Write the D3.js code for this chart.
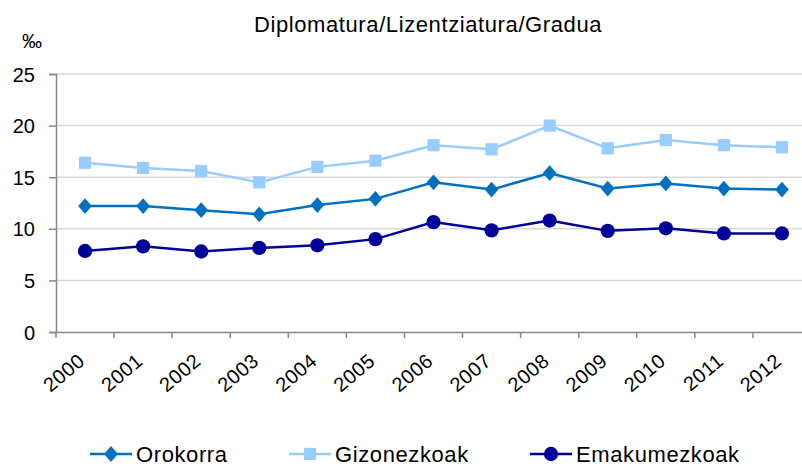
<!DOCTYPE html>
<html>
<head>
<meta charset="utf-8">
<script src="https://cdn.jsdelivr.net/npm/d3@7"></script>
<style>
  body { margin: 0; background: #fff; }
  text { font-family: "Liberation Sans", Arial, sans-serif; fill: #000; }
</style>
</head>
<body>
<div id="chart"></div>
<script>
// Data
let years = ['2000', '2001', '2002', '2003', '2004', '2005', '2006', '2007', '2008', '2009', '2010', '2011', '2012'];
let orokorra = [12.2, 12.2, 11.8, 11.4, 12.3, 12.9, 14.5, 13.8, 15.4, 13.9, 14.4, 13.9, 13.8];
let gizonezkoak = [16.4, 15.9, 15.6, 14.5, 16.0, 16.6, 18.1, 17.7, 20.0, 17.8, 18.6, 18.1, 17.9];
let emakumezkoak = [7.85, 8.3, 7.8, 8.15, 8.4, 9.0, 10.65, 9.85, 10.8, 9.8, 10.05, 9.55, 9.55];
let yTicks = [0, 5, 10, 15, 20, 25];

let series = [
  { name: 'Orokorra', values: orokorra, color: '#0070C0', marker: 'diamond' },
  { name: 'Gizonezkoak', values: gizonezkoak, color: '#99CCFF', marker: 'square' },
  { name: 'Emakumezkoak', values: emakumezkoak, color: '#000099', marker: 'circle' }
];

// Dimensions
let W = 802, H = 468;
let plot = { left: 56, right: 811, top: 74, bottom: 332 };

// Scales
let x = d3.scaleBand()
  .domain(years)
  .range([plot.left, plot.right]);
let y = d3.scaleLinear()
  .domain([0, 25])
  .range([plot.bottom, plot.top]);

let svg = d3.select('#chart')
  .append('svg')
  .attr('width', W)
  .attr('height', H);

// Grid
svg.append('g')
  .selectAll('line')
  .data(yTicks.filter(d => d > 0))
  .enter()
  .append('line')
  .attr('x1', plot.left)
  .attr('x2', plot.right)
  .attr('y1', d => y(d))
  .attr('y2', d => y(d))
  .attr('stroke', '#d9d9d9')
  .attr('stroke-width', 1.5);

// Axes
let yAxis = svg.append('g')
  .attr('transform', `translate(${plot.left},0)`)
  .call(d3.axisLeft(y).tickValues(yTicks).tickSize(7).tickPadding(14));
yAxis.selectAll('text').style('font-size', '20px').attr('dy', '0.35em');

let xAxis = svg.append('g')
  .attr('transform', `translate(0,${plot.bottom})`)
  .call(d3.axisBottom(x).tickSize(0).tickFormat(''));
xAxis.selectAll('.tick').remove();
xAxis.selectAll('.cat-tick')
  .data(years)
  .enter()
  .append('line')
  .attr('class', 'cat-tick')
  .attr('x1', d => x(d))
  .attr('x2', d => x(d))
  .attr('y1', 0)
  .attr('y2', 6);

svg.selectAll('.domain, .tick line, .cat-tick')
  .attr('stroke', '#868686')
  .attr('stroke-width', 1.5);

// X labels
svg.append('g')
  .selectAll('text')
  .data(years)
  .enter()
  .append('text')
  .attr('text-anchor', 'end')
  .attr('transform', d => `translate(${x(d) + x.bandwidth() / 2 + 1},${plot.bottom + 31}) rotate(-40)`)
  .style('font-size', '20px')
  .style('letter-spacing', '0.5px')
  .text(d => d);

// Lines and markers
let line = d3.line()
  .x((d, i) => x(years[i]) + x.bandwidth() / 2)
  .y(d => y(d));

let symbols = {
  diamond: d3.symbol().type(d3.symbolDiamond2).size(120),
  square: d3.symbol().type(d3.symbolSquare2).size(190),
  circle: d3.symbol().type(d3.symbolCircle).size(160)
};

series.forEach(s => {
  svg.append('path')
    .datum(s.values)
    .attr('fill', 'none')
    .attr('stroke', s.color)
    .attr('stroke-width', 2.5)
    .attr('d', line);
  svg.append('g')
    .selectAll('path')
    .data(s.values)
    .enter()
    .append('path')
    .attr('transform', (d, i) => `translate(${x(years[i]) + x.bandwidth() / 2},${y(d)})${s.marker === 'diamond' ? ' scale(1,1.15)' : ''}`)
    .attr('d', symbols[s.marker]())
    .attr('fill', s.color);
});

// Title and unit
svg.append('text')
  .attr('x', 428)
  .attr('y', 32)
  .attr('text-anchor', 'middle')
  .style('font-size', '22px')
  .style('letter-spacing', '0.6px')
  .text('Diplomatura/Lizentziatura/Gradua');
svg.append('text')
  .attr('x', 22)
  .attr('y', 48)
  .style('font-size', '20px')
  .text('‰');

// Legend
let legendX = [90, 289, 530];
let legend = svg.append('g')
  .selectAll('g')
  .data(series)
  .enter()
  .append('g')
  .attr('transform', (d, i) => `translate(${legendX[i]},454)`);
legend.append('line')
  .attr('x1', 0)
  .attr('x2', 42)
  .attr('stroke', d => d.color)
  .attr('stroke-width', 2.5);
legend.append('path')
  .attr('transform', d => `translate(21,0)${d.marker === 'diamond' ? ' scale(1,1.15)' : ''}`)
  .attr('d', d => symbols[d.marker]())
  .attr('fill', d => d.color);
legend.append('text')
  .attr('x', 46)
  .attr('dy', '0.35em')
  .style('font-size', '22px')
  .style('letter-spacing', '0.6px')
  .text(d => d.name);
</script>
</body>
</html>
